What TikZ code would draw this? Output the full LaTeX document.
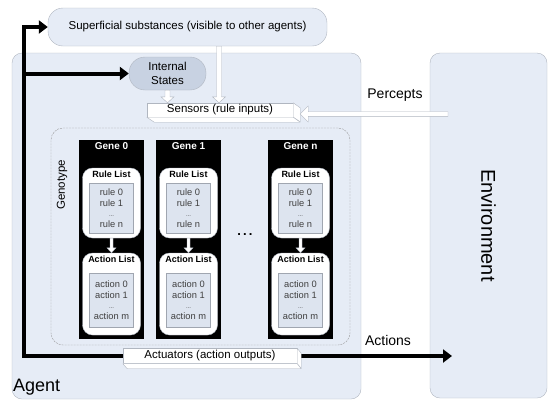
\documentclass[tikz,border=0pt]{standalone}
\usepackage{fontspec}
\setmainfont{Liberation Sans}
\usepackage{xcolor}
\usepackage{tikz}
\usetikzlibrary{arrows.meta,positioning,calc}

\definecolor{paleblue}{RGB}{230,236,246}
\definecolor{framegray}{RGB}{176,182,192}
\definecolor{stateblue}{RGB}{200,210,226}
\definecolor{listblue}{RGB}{221,228,239}
\definecolor{listgray}{RGB}{160,166,176}

% hollow arrow pointing down: from, to, shaft half width, head half width, head length
\newcommand{\hollowdown}[5]{%
  \draw[hollow] let \p1=(#1), \p2=(#2) in
    (\x1-#3,\y1) -- (\x1-#3,\y2+#5) -- (\x1-#4,\y2+#5) -- (\x1,\y2)
    -- (\x1+#4,\y2+#5) -- (\x1+#3,\y2+#5) -- (\x1+#3,\y1) -- cycle;}
% hollow arrow pointing left
\newcommand{\hollowleft}[5]{%
  \draw[hollow] let \p1=(#1), \p2=(#2) in
    (\x1,\y1-#3) -- (\x2+#5,\y1-#3) -- (\x2+#5,\y1-#4) -- (\x2,\y1)
    -- (\x2+#5,\y1+#4) -- (\x2+#5,\y1+#3) -- (\x1,\y1+#3) -- cycle;}

\begin{document}
\begin{tikzpicture}[
  x=1pt, y=-1pt,
  every node/.style={font=\fontsize{11.5}{13.5}\selectfont, inner sep=0pt},
  panel/.style={
    rectangle,
    draw=framegray,
    fill=paleblue,
    rounded corners=10pt
  },
  port/.style={
    rectangle,
    draw=framegray,
    fill=white
  },
  portside/.style={draw=framegray, fill=white, line join=round},
  genotype/.style={
    rectangle,
    draw=gray!80,
    dash pattern=on 2pt off 1pt,
    rounded corners=12pt,
    thin
  },
  gene/.style={rectangle, fill=black, minimum width=65pt, minimum height=199pt},
  genetitle/.style={text=white, font=\bfseries\fontsize{10}{12}\selectfont},
  listbox/.style={
    rectangle,
    draw=framegray,
    fill=white,
    rounded corners=10pt,
    minimum width=58pt
  },
  listtitle/.style={font=\bfseries\fontsize{9}{11}\selectfont},
  items/.style={
    rectangle,
    draw=listgray,
    fill=listblue,
    align=center,
    text=darkgray,
    minimum width=44pt,
    font=\fontsize{9.3}{10.5}\selectfont
  },
  busline/.style={line width=4pt, -{Triangle[length=9pt,width=13pt]}},
  hollow/.style={draw=framegray, fill=white, line join=miter},
  bigtext/.style={font=\fontsize{18}{21}\selectfont},
  flowtext/.style={font=\fontsize{14}{16}\selectfont}
]
\useasboundingbox (0,0) rectangle (549,400);

% Agent and environment
\node[panel, minimum width=349pt, minimum height=346pt] (agent) at (186.5,226) {};
\node[panel, minimum width=117pt, minimum height=345pt] (env) at (488.5,225.5) {};
\node[bigtext, font=\fontsize{20}{22}\selectfont, rotate=-90] (envlbl) at (env.center) {Environment};
\node[bigtext, anchor=west] (agentlbl) at (13,387) {Agent};

% Outer parts
\node[panel, rounded corners=15pt, minimum width=279pt, minimum height=38pt] (sup) at (187.5,27)
  {Superficial substances (visible to other agents)};
\node[panel, fill=stateblue, rounded corners=16pt, minimum width=77pt, minimum height=33pt,
  align=center] (int) at (167.5,73.5) {Internal\\States};

% Genotype
\node[genotype, minimum width=299pt, minimum height=217pt] (geno) at (200.5,236.5) {};
\node[rotate=90] (genolbl) at (62,185) {Genotype};

\foreach \i/\gx/\gname in {0/111.5/Gene 0, 1/188.5/Gene 1, n/300.5/Gene n} {
  \node[gene] (gene\i) at (\gx,239.5) {};
  \node[genetitle, below=3pt of gene\i.north] (title\i) {\gname};
  % rules
  \node[listbox, minimum height=70pt] (rules\i) at (\gx,203) {};
  \node[listtitle, below=3pt of rules\i.north] (rtitle\i) {Rule List};
  \node[items, minimum height=50pt] (rlist\i) at ($(rules\i.center)+(0,5)$)
    {rule 0\\rule 1\\{\fontsize{6}{8}\selectfont...}\\rule n};
  % actions
  \node[listbox, minimum height=82pt] (actions\i) at (\gx,294) {};
  \node[listtitle, below=3pt of actions\i.north] (atitle\i) {Action List};
  \node[items, minimum height=54pt] (alist\i) at ($(actions\i.center)+(0,6)$)
    {action 0\\action 1\\{\fontsize{6}{8}\selectfont...}\\action m};
  \hollowdown{rules\i.south}{actions\i.north}{1.5pt}{4.5pt}{5pt}
}
\node[font=\bfseries\fontsize{13}{14}\selectfont] (more) at (245,235) {.\,.\,.};

% Sensors and actuators
\node[port, minimum width=146pt, minimum height=14pt] (sens) at (220,110) {Sensors (rule inputs)};
\node[port, minimum width=174pt, minimum height=15pt] (act) at (210,356) {Actuators (action outputs)};

% Connections
\coordinate (bus) at (24,356);
\coordinate (tap) at (bus |- int.west);
\coordinate (actend) at (452,356);
\coordinate (perstart) at (448,114);
\draw[busline] (act.west) -- (bus) |- (sup.west);
\draw[busline] (tap) -- (int.west);
\draw[busline] (act.east) -- (actend);

\draw[portside] (sens.north east) -- ++(7,5) -- ++(0,14) -- (sens.south east) -- cycle;
\draw[portside] (sens.south west) -- (sens.south east) -- ++(7,5) -- ++(-146,0) -- cycle;
\draw[portside] (act.north east) -- ++(4,5) -- ++(0,15) -- (act.south east) -- cycle;
\draw[portside] (act.south west) -- (act.south east) -- ++(4,5) -- ++(-174,0) -- cycle;

\hollowdown{int.south}{sens.north}{2.5pt}{6.5pt}{6pt}
\hollowdown{$(sup.south)+(31.5,0)$}{sens.north}{2.5pt}{6.5pt}{6pt}
\hollowleft{perstart}{$(sens.east)+(7,0)$}{2.3pt}{8pt}{8pt}

\node[flowtext] (perlbl) at (395,95) {Percepts};
\node[flowtext] (actlbl) at (388,340) {Actions};

\end{tikzpicture}
\end{document}
